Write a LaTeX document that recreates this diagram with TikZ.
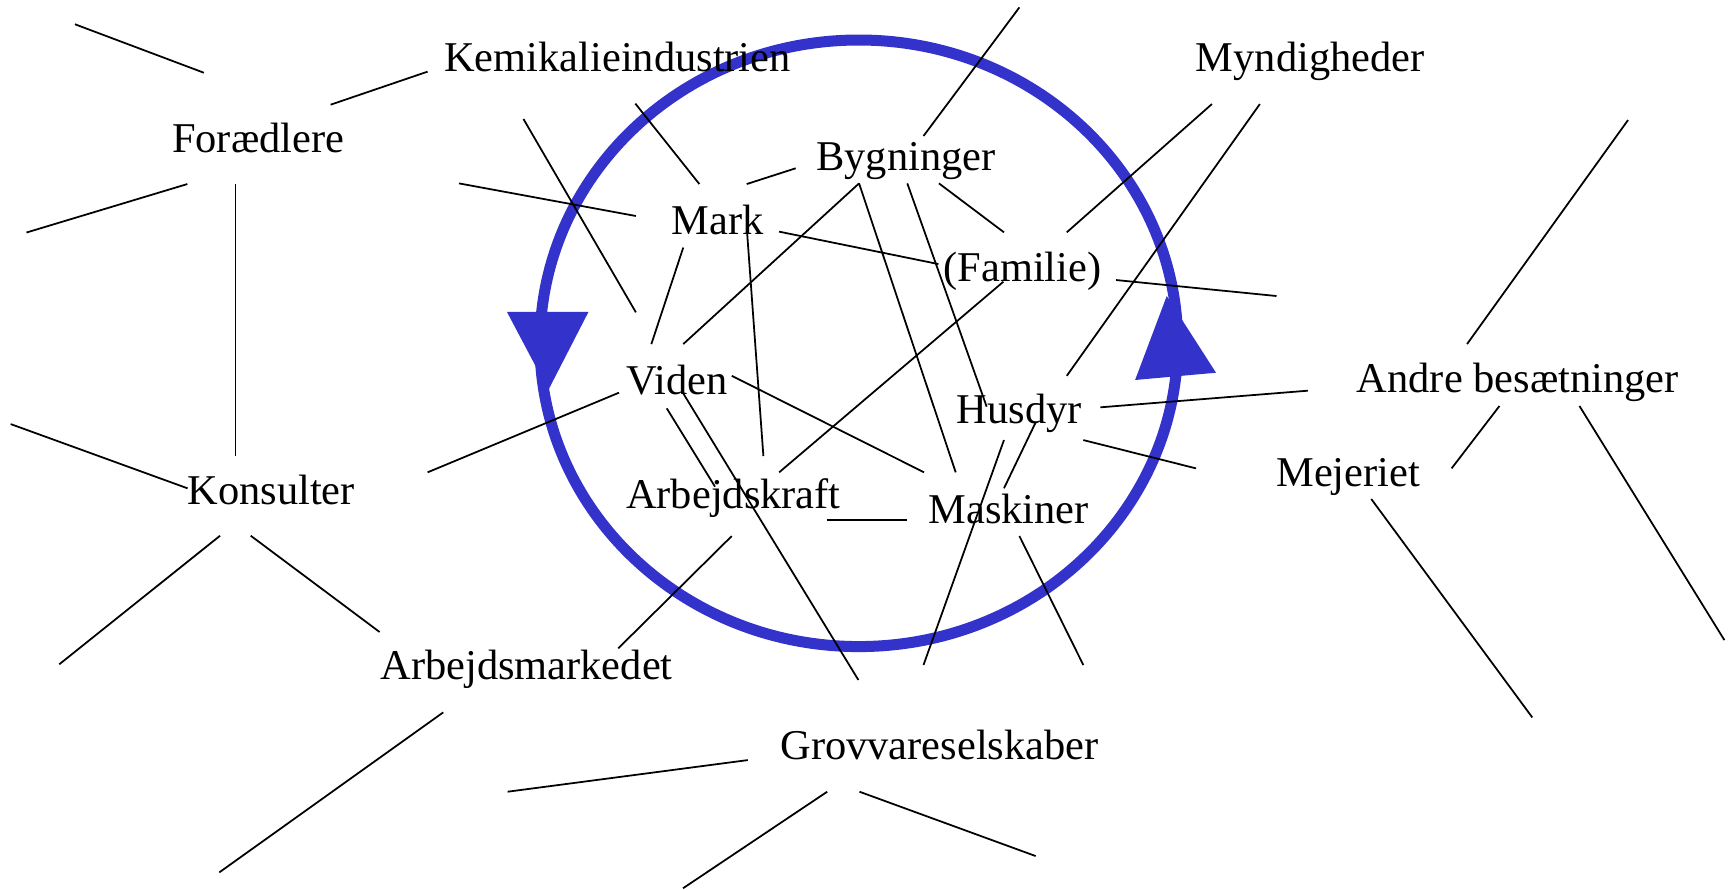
\documentclass[tikz,border=0pt]{standalone}
\usepackage{fontspec}
\setmainfont{Liberation Serif}
\definecolor{ringblue}{RGB}{51,51,204}

\begin{document}
\begin{tikzpicture}[x=1pt,y=-1pt,
			label node/.style={anchor=base west,inner sep=0pt,font=\fontsize{38.5}{46}\selectfont},
			link/.style={line width=1.6pt},
			ring/.style={draw=ringblue,line width=10pt},
			ring tip/.style={fill=ringblue}
			]
			
			\useasboundingbox (0,0) rectangle (1568,807);
			
			% the cycle
			\draw[ring] (779.3,311.5) ellipse [x radius=289.3pt, y radius=275.2pt];
			\fill[ring tip] (460,283) -- (534,283) -- (497.5,354) -- cycle;
			\fill[ring tip] (1058.7,268.6) -- (1103.4,338.2) -- (1030,344.8) -- cycle;
			
			% labels
			\node[label node] at (403,65) (kemi) {Kemikalieindustrien};
			\node[label node] at (156,138) (fora) {Forædlere};
			\node[label node] at (1085,65) (mynd) {Myndigheder};
			\node[label node] at (740.5,155) (byg) {Bygninger};
			\node[label node] at (609.5,212.6) (mark) {Mark};
			\node[label node] at (856,255.6) (fam) {(Familie)};
			\node[label node] at (568,358) (viden) {Viden};
			\node[label node] at (868,384) (husdyr) {Husdyr};
			\node[label node] at (1231,356) (andre) {Andre besætninger};
			\node[label node] at (170,457.4) (kons) {Konsulter};
			\node[label node] at (1158,441.5) (mej) {Mejeriet};
			\node[label node] at (568,461) (arbkr) {Arbejdskraft};
			\node[label node] at (842.4,475) (mask) {Maskiner};
			\node[label node] at (345,616.5) (arbm) {Arbejdsmarkedet};
			\node[label node] at (708,689) (grov) {Grovvareselskaber};
			
			% line ends
			\foreach \n/\x/\y in {x1/68/22, fo-a/185/66, fo-ke/300/95, ke-fo/388/65,
				fo-b/170/167, x2/24/211, fo-ko/213.6/167, ko-fo/213.6/414,
				fo-ma/416.5/166.4, ma-fo/577/196, ke-vi/475/108, vi-ke/577/283.4,
				ke-ma/576.5/94, ma-ke/634.6/167, ma-by/677.6/167, by-ma/722/152.7,
				by-a/838/123.4, x3/925/6.7, by-fa/852/166.4, fa-by/911/210.8,
				fa-my/968/210.8, my-fa/1099.7/94.4, hu-my/968/341, my-hu/1143.2/94.4,
				ma-fa/707/210.2, fa-ma/851.5/239.6, fa-a/1012.7/254.1, x4/1158.3/268.6,
				an-a/1331.2/312.2, x5/1477.3/108.9, ma-vi/620/224.6, vi-ma/591/312.3,
				by-b/779.5/166.4, vi-by/620/312.2, ma-ak/678/212, ak-ma/692.7/413.8,
				mk-by/867.2/428.6, by-hu/823.3/166.4, hu-by/895.3/369,
				fa-ak/910.5/255.6, ak-fa/707/428.6, vi-mk/664/341, mk-vi/838.5/428.6,
				vi-ak/605/370.5, ak-vi/648.8/441.6, vi-gr/620/357, gr-vi/778.9/617,
				vi-ko/561.7/356.3, ko-vi/388/428.6, ak-mk/750/471.9, mk-ak/823.3/471.9,
				ak-am/664/486.4, am-ak/561/588.3, hu-gr/911/399.3, gr-hu/838/603.4,
				hu-mk/939.8/383.2, mk-hu/911/443.1, mk-a/925/486.4, x6/983/603.4,
				hu-an/998.5/369.6, an-hu/1186.8/354.5, hu-me/983/399.3, me-hu/1085.3/425,
				an-me/1360.6/368.4, me-an/1317.2/425, an-b/1433.2/368.4, x7/1564.7/580.8,
				me-a/1244.3/452.8, x8/1390.4/651, x9/9.7/384.8, ko-a/170.2/443.1,
				ko-b/199.7/486.1, x10/53.8/602.8, ko-am/227.5/486.1, am-ko/344.5/573.5,
				am-a/402.2/646.4, x11/199/791.6, x12/460.6/718.4, gr-a/678.6/689.7,
				gr-b/750.6/718.4, x13/619.8/806, gr-c/779.9/718.4, x14/939.8/776.8}
				\coordinate (\n) at (\x,\y);
			
			\foreach \a/\b in {x1/fo-a, fo-ke/ke-fo, fo-b/x2, fo-ko/ko-fo, fo-ma/ma-fo,
				ke-vi/vi-ke, ke-ma/ma-ke, ma-by/by-ma, by-a/x3, by-fa/fa-by,
				fa-my/my-fa, hu-my/my-hu, ma-fa/fa-ma, fa-a/x4, an-a/x5,
				ma-vi/vi-ma, by-b/vi-by, ma-ak/ak-ma, by-b/mk-by, by-hu/hu-by,
				fa-ak/ak-fa, vi-mk/mk-vi, vi-ak/ak-vi, vi-gr/gr-vi, vi-ko/ko-vi,
				ak-mk/mk-ak, ak-am/am-ak, hu-gr/gr-hu, hu-mk/mk-hu, mk-a/x6,
				hu-an/an-hu, hu-me/me-hu, an-me/me-an, an-b/x7, me-a/x8,
				x9/ko-a, ko-b/x10, ko-am/am-ko, am-a/x11, x12/gr-a,
				gr-b/x13, gr-c/x14}
				\draw[link] (\a) -- (\b);
			\end{tikzpicture}
\end{document}
